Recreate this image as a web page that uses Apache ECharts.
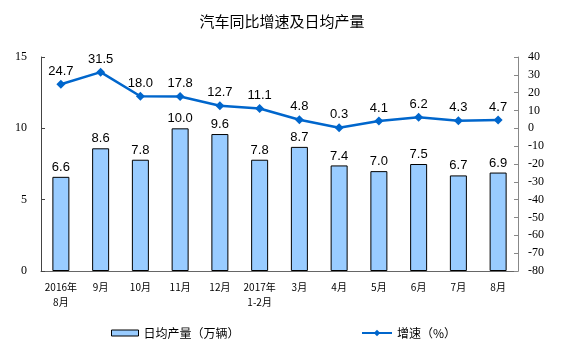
<!DOCTYPE html>
<html>
<head>
<meta charset="utf-8">
<script src="https://cdn.jsdelivr.net/npm/echarts@6/dist/echarts.min.js"></script>
<style>
  html, body { margin: 0; padding: 0; background: #fff; }
  #chart { width: 564px; height: 351px; }
</style>
</head>
<body>
<div id="chart"></div>
<script>
const months = ['2016年\n8月', '9月', '10月', '11月', '12月', '2017年\n1-2月', '3月', '4月', '5月', '6月', '7月', '8月'];
const dailyOutput = [6.6, 8.6, 7.8, 10.0, 9.6, 7.8, 8.7, 7.4, 7.0, 7.5, 6.7, 6.9];
const growth = [24.7, 31.5, 18.0, 17.8, 12.7, 11.1, 4.8, 0.3, 4.1, 6.2, 4.3, 4.7];

const CJK = '"Noto Sans CJK SC", sans-serif';
const NUM = '"Liberation Sans", Arial, sans-serif';
const AXISNUM = '"Liberation Serif", "Times New Roman", serif';

const legendText = { fontFamily: CJK, fontSize: 12, color: '#000' };

const chart = echarts.init(document.getElementById('chart'));
chart.setOption({
  backgroundColor: '#fff',
  animation: false,
  title: {
    text: '汽车同比增速及日均产量',
    left: 'center',
    top: 9,
    textStyle: { fontFamily: CJK, fontSize: 15, fontWeight: 'normal', color: '#000' }
  },
  legend: [
    {
      left: 106, top: 322,
      itemWidth: 27, itemHeight: 6, itemGap: 3,
      textStyle: legendText,
      data: [{ name: '日均产量（万辆）', icon: 'rect', itemStyle: { color: '#99ccff', borderColor: '#000', borderWidth: 1 } }]
    },
    {
      left: 356, top: 322,
      itemWidth: 30, itemHeight: 8, itemGap: 3,
      textStyle: legendText,
      data: [{ name: '增速（%）' }]
    }
  ],
  grid: { left: 41, right: 46, top: 57, bottom: 80 },
  xAxis: {
    type: 'category',
    data: months,
    axisLine: { lineStyle: { color: '#666' } },
    axisTick: { inside: true, length: 3, lineStyle: { color: '#666' } },
    axisLabel: { fontFamily: CJK, fontSize: 10, color: '#000', margin: 9, lineHeight: 15, interval: 0 }
  },
  yAxis: [
    {
      type: 'value', min: 0, max: 15, interval: 5,
      axisLine: { show: true, lineStyle: { color: '#444' } },
      axisTick: { show: true, inside: true, length: 4, lineStyle: { color: '#444' } },
      axisLabel: { fontFamily: AXISNUM, fontSize: 12, color: '#000', margin: 14 },
      splitLine: { show: false }
    },
    {
      type: 'value', min: -80, max: 40, interval: 10,
      axisLine: { show: true, lineStyle: { color: '#888' } },
      axisTick: { show: true, inside: true, length: 4, lineStyle: { color: '#888' } },
      axisLabel: { fontFamily: AXISNUM, fontSize: 12, color: '#000', margin: 10 },
      splitLine: { show: false }
    }
  ],
  series: [
    {
      name: '日均产量（万辆）',
      type: 'bar',
      data: dailyOutput,
      barWidth: 17,
      itemStyle: { color: '#99ccff', borderColor: '#000', borderWidth: 1 },
      label: {
        show: true, position: 'top', distance: 3,
        fontFamily: NUM, fontSize: 13, color: '#000',
        formatter: p => p.value.toFixed(1)
      }
    },
    {
      name: '增速（%）',
      type: 'line',
      yAxisIndex: 1,
      data: growth,
      symbol: 'diamond',
      symbolSize: 9,
      lineStyle: { color: '#0066cc', width: 2.5 },
      itemStyle: { color: '#0066cc' },
      label: {
        show: true, position: 'top', distance: 2,
        fontFamily: NUM, fontSize: 13, color: '#000',
        formatter: p => p.value.toFixed(1)
      }
    }
  ]
});
</script>
</body>
</html>
